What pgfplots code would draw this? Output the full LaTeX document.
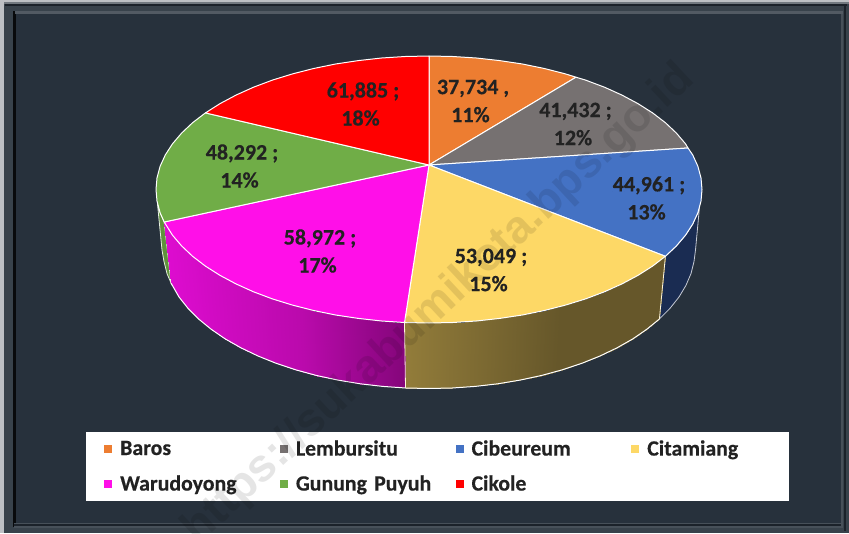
\documentclass[border=0pt]{standalone}
\usepackage{pgfplots}
\pgfplotsset{compat=1.18}
\usepackage{fontspec}
\setmainfont{Carlito}[BoldFeatures={FakeBold=0.4}]
\newfontfamily\wmfont{Liberation Sans}
\definecolor{bgc}{RGB}{39,49,60}
\definecolor{lab}{RGB}{34,34,34}
\definecolor{cBaros}{RGB}{237,125,49}
\definecolor{cLemb}{RGB}{118,113,113}
\definecolor{cCib}{RGB}{68,114,196}
\definecolor{cCit}{RGB}{253,216,102}
\definecolor{cWar}{RGB}{255,15,232}
\definecolor{cGun}{RGB}{112,173,71}
\definecolor{cCik}{RGB}{255,0,0}
\definecolor{cNavy}{RGB}{26,44,82}
\definecolor{cGunD}{RGB}{96,146,60}
\begin{document}
\begin{tikzpicture}
\useasboundingbox (0,0) rectangle (849pt,533pt);
\clip (0,0) rectangle (849pt,533pt);
\begin{axis}[
  at={(0,0)},anchor=south west,
  width=849pt,height=533pt,scale only axis,
  xmin=0,xmax=849,ymin=0,ymax=533,y dir=reverse,
  hide axis,clip=false,
  point meta min=160,point meta max=660,
  colormap={sidecm}{rgb255(0pt)=(222,12,208);rgb255(140pt)=(186,10,172);rgb255(244pt)=(132,6,122);
    rgb255(246pt)=(146,124,58);rgb255(400pt)=(102,87,42);rgb255(500pt)=(102,87,42)},
  legend columns=4,
  legend image code/.code={\fill[#1,draw=none] (0pt,-4pt) rectangle (8pt,4pt);},
  legend style={at={(axis description cs:0.1225,0.1914)},anchor=north west,draw=none,fill=none,
    inner sep=0pt,row sep=0pt,
    font=\fontsize{21.8}{26}\bfseries\selectfont,text=lab,
    nodes={text width=151.7pt,minimum height=35pt,inner sep=0pt,align=left},
    /tikz/every odd column/.append style={column sep=8pt},
    /tikz/every even column/.append style={column sep=8pt}},
]
% frame
\fill[white!70!bgc] (axis cs:0,0) rectangle (axis cs:849,533);
\fill[bgc!92!white] (axis cs:4,2) rectangle (axis cs:849,533);
\fill[bgc!65!white] (axis cs:4,2) rectangle (axis cs:849,3.5);
\fill[bgc!70!black] (axis cs:5,4) rectangle (axis cs:847,6);
\fill[black!80!bgc] (axis cs:13,11) rectangle (axis cs:16,527);
\fill[bgc!80!white] (axis cs:15,11) rectangle (axis cs:843,14);
\fill[bgc] (axis cs:16,14) rectangle (axis cs:841,523);
\fill[bgc!85!white] (axis cs:14,523) rectangle (axis cs:843,524);
\fill[bgc!70!black] (axis cs:14,524) rectangle (axis cs:843,526);
\fill[bgc!85!white] (axis cs:14,526) rectangle (axis cs:843,528);
\fill[bgc!85!white] (axis cs:841,14) rectangle (axis cs:843,528);
\fill[bgc!70!black] (axis cs:844,4) rectangle (axis cs:846,531);
% legend panel
\fill[white] (axis cs:86,432) rectangle (axis cs:789,501);
% side walls
\addplot[cNavy!100,fill=cNavy,draw=white!75!cNavy,line width=0.8pt,forget plot] coordinates {
(665.4,256.3)(676.4,245.9)(685.5,235.2)(692.7,224.1)(697.9,212.7)(699.5,207)(695.5,250)(694,261.6)(691,273.6)(685.9,285.5)(679,297)(670.1,308.2)(659.4,319)} -- cycle;
\addplot[fill=cGunD,draw=white!85!cGunD,line width=0.8pt,forget plot] coordinates {
(164.2,222)(160.1,212.7)(157.5,204)(162,250)(164,261.6)(167,273.6)(171,283)} -- cycle;
\addplot[surf,shader=interp,mesh/rows=2,forget plot,point meta=\thisrow{c}] table {
x y c
404.5 322.5 404
381.6 321.0 381
358.3 318.4 358
335.6 315.0 335
313.6 310.5 313
292.5 305.1 292
272.4 298.9 272
253.5 291.8 253
236.0 283.9 236
219.9 275.3 220
205.4 266.1 205
192.6 256.3 192
181.6 245.9 182
172.5 235.2 172
164.2 222.0 164
405.5 388.0 404
382.8 386.4 381
360.2 383.8 358
338.0 380.1 335
316.6 375.5 313
296.0 369.9 292
276.4 363.4 272
258.0 356.0 253
240.9 347.8 236
225.2 338.9 220
211.1 329.2 205
198.6 319.0 192
187.9 308.2 182
179.0 297.0 172
171.0 283.0 164
};
\addplot[surf,shader=interp,mesh/rows=2,forget plot,point meta=\thisrow{c}] table {
x y c
404.5 322.5 406
429.0 323.0 429
452.8 322.5 453
476.4 321.0 476
499.7 318.4 500
522.4 315.0 522
544.4 310.5 544
565.5 305.1 565
585.6 298.9 585
604.5 291.8 604
622.0 283.9 622
638.1 275.3 638
652.6 266.1 653
665.4 256.3 660
405.5 388.0 406
429.0 388.5 429
452.2 388.0 453
475.2 386.4 476
497.8 383.8 500
520.0 380.1 522
541.4 375.5 544
562.0 369.9 565
581.6 363.4 585
600.0 356.0 604
617.1 347.8 622
632.8 338.9 638
646.9 329.2 653
659.4 319.0 660
};
% wall outlines
\addplot[white,line width=1pt,forget plot] coordinates {(171,283)(179,297)(187.9,308.2)(198.6,319)(211.1,329.2)(225.2,338.9)(240.9,347.8)(258,356)(276.4,363.4)(296,369.9)(316.6,375.5)(338,380.1)(360.2,383.8)(382.8,386.4)(405.8,388)(429,388.5)(452.2,388)(475.2,386.4)(497.8,383.8)(520,380.1)(541.4,375.5)(562,369.9)(581.6,363.4)(600,356)(617.1,347.8)(632.8,338.9)(646.9,329.2)(659.4,319)};
\addplot[white!75!cCit,line width=0.8pt,forget plot] coordinates {(404.5,322.5)(405.5,388)};
\addplot[white!75!cCit,line width=0.8pt,forget plot] coordinates {(665.4,256.3)(659.4,319)};
% top slices
\addplot[fill=cBaros,draw=white,line width=1pt,line join=round] coordinates {
(429,165)(429,56)(452.8,56.5)(476.4,58)(499.7,60.6)(522.4,64)(544.4,68.5)(565.5,73.9)(576,77.2)} -- cycle;
\addlegendentry{Baros}
\addplot[fill=cLemb,draw=white,line width=1pt,line join=round] coordinates {
(429,165)(576,77.2)(585.6,80.1)(604.5,87.2)(622,95.1)(638.1,103.7)(652.6,112.9)(665.4,122.7)(676.4,133.1)(685.5,143.8)(688,148)} -- cycle;
\addlegendentry{Lembursitu}
\addplot[fill=cCib,draw=white,line width=1pt,line join=round] coordinates {
(429,165)(688,148)(692.7,154.9)(697.9,166.3)(701,177.9)(702,189.5)(701,201.1)(697.9,212.7)(692.7,224.1)(685.5,235.2)(676.4,245.9)(665.4,256.3)} -- cycle;
\addlegendentry{Cibeureum}
\addplot[fill=cCit,draw=white,line width=1pt,line join=round] coordinates {
(429,165)(665.4,256.3)(652.6,266.1)(638.1,275.3)(622,283.9)(604.5,291.8)(585.6,298.9)(565.5,305.1)(544.4,310.5)(522.4,315)(499.7,318.4)(476.4,321)(452.8,322.5)(429,323)(404.5,322.5)} -- cycle;
\addlegendentry{Citamiang}
\addplot[fill=cWar,draw=white,line width=1pt,line join=round] coordinates {
(429,165)(404.5,322.5)(381.6,321)(358.3,318.4)(335.6,315)(313.6,310.5)(292.5,305.1)(272.4,298.9)(253.5,291.8)(236,283.9)(219.9,275.3)(205.4,266.1)(192.6,256.3)(181.6,245.9)(172.5,235.2)(164.2,222)} -- cycle;
\addlegendentry{Warudoyong}
\addplot[fill=cGun,draw=white,line width=1pt,line join=round] coordinates {
(429,165)(164.2,222)(160.1,212.7)(157,201.1)(156,189.5)(157,177.9)(160.1,166.3)(165.3,154.9)(172.5,143.8)(181.6,133.1)(192.6,122.7)(205.4,112.9)} -- cycle;
\addlegendentry{Gunung Puyuh}
\addplot[fill=cCik,draw=white,line width=1pt,line join=round] coordinates {
(429,165)(205.4,112.9)(219.9,103.7)(236,95.1)(253.5,87.2)(272.4,80.1)(292.5,73.9)(313.6,68.5)(335.6,64)(358.3,60.6)(381.6,58)(405.2,56.5)(429,56)} -- cycle;
\addlegendentry{Cikole}
% data labels
\tikzset{dl/.style={font=\fontsize{22}{28}\bfseries\selectfont,text=lab,align=center,inner sep=0pt}}
\node[dl] at (axis cs:473,101) {37,734 ,\\11\%\hspace*{5pt}};
\node[dl] at (axis cs:575.5,124) {41,432 ;\\12\%\hspace*{5pt}};
\node[dl] at (axis cs:649,198) {44,961 ;\\13\%\hspace*{5pt}};
\node[dl] at (axis cs:491,270) {53,049 ;\\15\%\hspace*{5pt}};
\node[dl] at (axis cs:320,251) {58,972 ;\\17\%\hspace*{5pt}};
\node[dl] at (axis cs:242,166) {48,292 ;\\14\%\hspace*{5pt}};
\node[dl] at (axis cs:363,104) {61,885 ;\\18\%\hspace*{5pt}};
\end{axis}
\node[rotate=43,text=black,text opacity=0.1,font=\wmfont\fontsize{46}{50}\bfseries\selectfont,inner sep=0pt]
  at (439pt,228pt) {https://sukabumikota.bps.go.id};
\end{tikzpicture}
\end{document}
